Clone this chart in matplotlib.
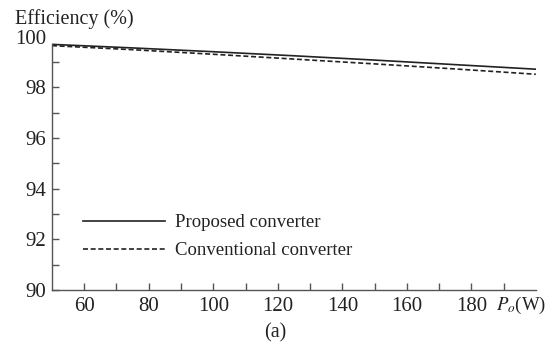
import matplotlib
matplotlib.use("Agg")
import matplotlib.pyplot as plt
from matplotlib.ticker import FixedLocator, FixedFormatter
from matplotlib.transforms import blended_transform_factory

plt.rcParams['font.family'] = ['Liberation Serif', 'DejaVu Serif']
plt.rcParams['mathtext.fontset'] = 'stix'

power = [50, 75, 100, 125, 150, 175, 200]
proposed = [99.70, 99.56, 99.41, 99.25, 99.08, 98.90, 98.72]
conventional = [99.65, 99.49, 99.31, 99.12, 98.93, 98.73, 98.52]

x_ticks = [60, 70, 80, 90, 100, 110, 120, 130, 140, 150, 160, 170, 180, 190]
x_labels = ['60', '', '80', '', '100', '', '120', '', '140', '', '160', '', '180', '']
y_ticks = [90, 91, 92, 93, 94, 95, 96, 97, 98, 99, 100]
y_labels = ['90', '', '92', '', '94', '', '96', '', '98', '', '100']

fig = plt.figure(figsize=(5.53, 3.47), dpi=100)
ax = fig.add_axes([0.094, 0.164, 0.875, 0.73])

ink = '#222222'
ax.plot(power, proposed, color=ink, lw=1.2, label='Proposed converter')
ax.plot(power, conventional, color=ink, lw=1.2, linestyle=(0, (3, 1.6)), label='Conventional converter')

ax.set_xlim(50, 200)
ax.set_ylim(90, 100)
ax.xaxis.set_major_locator(FixedLocator(x_ticks))
ax.xaxis.set_major_formatter(FixedFormatter(x_labels))
ax.yaxis.set_major_locator(FixedLocator(y_ticks))
ax.yaxis.set_major_formatter(FixedFormatter(y_labels))

for s in ['top', 'right']:
    ax.spines[s].set_visible(False)
for s in ['left', 'bottom']:
    ax.spines[s].set_color('#555555')
    ax.spines[s].set_linewidth(1.0)
ax.spines['left'].set_bounds(90, 99.7)
ax.tick_params(direction='in', length=5, width=1.0, color='#555555', labelsize=15, labelcolor=ink)
ax.tick_params(axis='x', pad=5)
ax.tick_params(axis='y', pad=4)
ax.yaxis.get_major_ticks()[-1].tick1line.set_visible(False)

trans = blended_transform_factory(ax.transData, ax.transAxes)
ax.text(187.5, -0.061, '$P_o$(W)', transform=trans, fontsize=13.5, color=ink, ha='left', va='center')

fig.text(0.027, 0.945, 'Efficiency (%)', fontsize=14.5, color=ink, va='center', ha='left')
fig.text(0.497, 0.012, '(a)', fontsize=14.5, color=ink, va='bottom', ha='center')

leg = ax.legend(loc='lower left', bbox_to_anchor=(0.03, 0.055), frameon=False, fontsize=13.5,
                handlelength=4.35, handletextpad=0.55, labelspacing=0.58, labelcolor=ink)

fig.savefig('out.png', dpi=100)
